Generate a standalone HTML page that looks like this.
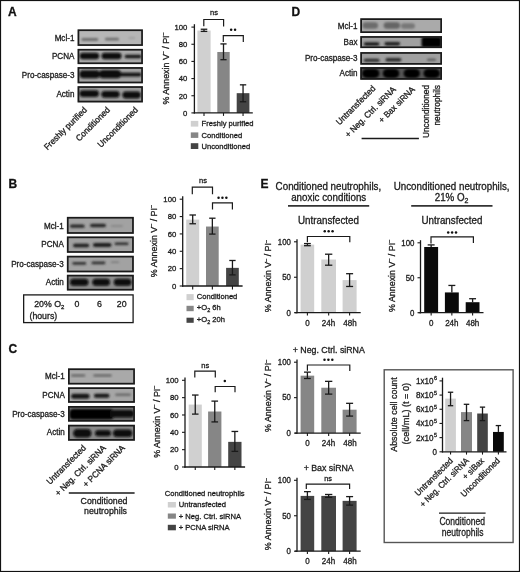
<!DOCTYPE html>
<html><head><meta charset="utf-8"><style>
html,body{margin:0;padding:0;background:#fff;width:520px;height:572px;overflow:hidden;}
svg{display:block;font-family:"Liberation Sans", sans-serif;filter:blur(0.3px);}
text{stroke:#1c1c1c;stroke-width:0.3px;paint-order:stroke;}
</style></head><body>
<svg width="520" height="572" viewBox="0 0 520 572">
<defs><filter id="bl" x="-50%" y="-50%" width="200%" height="200%"><feGaussianBlur stdDeviation="1.1"/></filter></defs>
<rect x="0" y="0" width="520" height="572" fill="#fff"/>
<rect x="0.5" y="0.5" width="519" height="571" fill="none" stroke="#111" stroke-width="1.2"/>
<text font-size="12" font-weight="bold" fill="#111" transform="translate(8.00 15.70)">A</text>
<text font-size="12" font-weight="bold" fill="#111" transform="translate(8.60 188.30)">B</text>
<text font-size="12" font-weight="bold" fill="#111" transform="translate(8.60 352.80)">C</text>
<text font-size="12" font-weight="bold" fill="#111" transform="translate(291.40 15.60)">D</text>
<text font-size="12" font-weight="bold" fill="#111" transform="translate(260.60 187.80)">E</text>
<text font-size="8.1" text-anchor="end" fill="#1c1c1c" transform="translate(74.40 40.70) scale(1.0 1.04)">Mcl-1</text>
<text font-size="8.1" text-anchor="end" fill="#1c1c1c" transform="translate(74.40 59.30) scale(1.0 1.04)">PCNA</text>
<text font-size="8.1" text-anchor="end" fill="#1c1c1c" transform="translate(74.40 77.90) scale(1.0 1.04)">Pro-caspase-3</text>
<text font-size="8.1" text-anchor="end" fill="#1c1c1c" transform="translate(74.40 96.60) scale(1.0 1.04)">Actin</text>
<clipPath id="c1"><rect x="77.6" y="29.4" width="65.30" height="16.50"/></clipPath>
<rect x="77.60" y="29.40" width="65.30" height="16.50" fill="#b6b6b6"/>
<g clip-path="url(#c1)"><g filter="url(#bl)">
<rect x="81.4" y="38.10" width="16.80" height="2.8" rx="1.4" fill="#6e6e6e"/>
<rect x="105" y="37.80" width="14.00" height="2.8" rx="1.4" fill="#6e6e6e"/>
<rect x="128.5" y="37.35" width="6.70" height="1.5" rx="0.75" fill="#999"/>
</g></g>
<rect x="78.45" y="30.25" width="63.60" height="14.80" fill="none" stroke="#1a1a1a" stroke-width="1.7"/>
<clipPath id="c2"><rect x="77.6" y="48.9" width="65.30" height="15.20"/></clipPath>
<rect x="77.60" y="48.90" width="65.30" height="15.20" fill="#a9a9a9"/>
<g clip-path="url(#c2)"><g filter="url(#bl)">
<rect x="79.6" y="52.75" width="19.60" height="6.5" rx="3.25" fill="#0d0d0d"/>
<rect x="101.5" y="52.75" width="20.00" height="6.5" rx="3.25" fill="#0d0d0d"/>
<rect x="124.6" y="54.70" width="16.90" height="3.6" rx="1.8" fill="#151515"/>
</g></g>
<rect x="78.45" y="49.75" width="63.60" height="13.50" fill="none" stroke="#1a1a1a" stroke-width="1.7"/>
<clipPath id="c3"><rect x="77.6" y="67.1" width="65.30" height="16.20"/></clipPath>
<rect x="77.60" y="67.10" width="65.30" height="16.20" fill="#a2a2a2"/>
<g clip-path="url(#c3)"><g filter="url(#bl)">
<rect x="79.4" y="70.20" width="20.60" height="8" rx="4.0" fill="#0a0a0a"/>
<rect x="99" y="70.10" width="22.10" height="8.2" rx="4.1" fill="#0a0a0a"/>
<rect x="118" y="72.80" width="23.50" height="3.6" rx="1.8" fill="#111"/>
</g></g>
<rect x="78.45" y="67.95" width="63.60" height="14.50" fill="none" stroke="#1a1a1a" stroke-width="1.7"/>
<clipPath id="c4"><rect x="77.6" y="86.2" width="65.30" height="16.20"/></clipPath>
<rect x="77.60" y="86.20" width="65.30" height="16.20" fill="#9c9c9c"/>
<g clip-path="url(#c4)"><g filter="url(#bl)">
<rect x="79.4" y="90.20" width="19.60" height="6.8" rx="3.4" fill="#0a0a0a"/>
<rect x="101.3" y="90.90" width="18.40" height="6.8" rx="3.4" fill="#0a0a0a"/>
<rect x="122.4" y="91.60" width="18.40" height="6.8" rx="3.4" fill="#0a0a0a"/>
</g></g>
<rect x="78.45" y="87.05" width="63.60" height="14.50" fill="none" stroke="#1a1a1a" stroke-width="1.7"/>
<text font-size="8.3" text-anchor="end" fill="#1c1c1c" transform="translate(87.50 110.50) rotate(-45) scale(1.0 1.04)">Freshly purified</text>
<text font-size="8.3" text-anchor="end" fill="#1c1c1c" transform="translate(110.50 110.50) rotate(-45) scale(1.0 1.04)">Conditioned</text>
<text font-size="8.3" text-anchor="end" fill="#1c1c1c" transform="translate(138.50 110.50) rotate(-45) scale(1.0 1.04)">Unconditioned</text>
<rect x="197.40" y="30.53" width="13.20" height="82.37" fill="#d0d0d0"/>
<rect x="217.30" y="51.98" width="12.40" height="60.92" fill="#868686"/>
<rect x="236.70" y="93.17" width="12.70" height="19.73" fill="#444444"/>
<line x1="204.00" y1="29.24" x2="204.00" y2="31.39" stroke="#1a1a1a" stroke-width="1.3"/>
<line x1="200.70" y1="29.24" x2="207.30" y2="29.24" stroke="#1a1a1a" stroke-width="1.3"/>
<line x1="200.70" y1="31.39" x2="207.30" y2="31.39" stroke="#1a1a1a" stroke-width="1.3"/>
<line x1="223.50" y1="43.92" x2="223.50" y2="59.70" stroke="#1a1a1a" stroke-width="1.3"/>
<line x1="220.40" y1="43.92" x2="226.60" y2="43.92" stroke="#1a1a1a" stroke-width="1.3"/>
<line x1="220.40" y1="59.70" x2="226.60" y2="59.70" stroke="#1a1a1a" stroke-width="1.3"/>
<line x1="243.05" y1="84.84" x2="243.05" y2="101.75" stroke="#1a1a1a" stroke-width="1.3"/>
<line x1="239.88" y1="84.84" x2="246.23" y2="84.84" stroke="#1a1a1a" stroke-width="1.3"/>
<line x1="239.88" y1="101.75" x2="246.23" y2="101.75" stroke="#1a1a1a" stroke-width="1.3"/>
<line x1="194.40" y1="24.20" x2="194.40" y2="113.55" stroke="#1a1a1a" stroke-width="1.3"/>
<line x1="193.75" y1="112.90" x2="252.80" y2="112.90" stroke="#1a1a1a" stroke-width="1.3"/>
<line x1="191.40" y1="112.90" x2="194.40" y2="112.90" stroke="#1a1a1a" stroke-width="1.1"/>
<text font-size="7.7" text-anchor="end" fill="#1c1c1c" transform="translate(187.40 115.67) scale(1.0 1.04)">0</text>
<line x1="191.40" y1="95.74" x2="194.40" y2="95.74" stroke="#1a1a1a" stroke-width="1.1"/>
<text font-size="7.7" text-anchor="end" fill="#1c1c1c" transform="translate(187.40 98.51) scale(1.0 1.04)">20</text>
<line x1="191.40" y1="78.58" x2="194.40" y2="78.58" stroke="#1a1a1a" stroke-width="1.1"/>
<text font-size="7.7" text-anchor="end" fill="#1c1c1c" transform="translate(187.40 81.35) scale(1.0 1.04)">40</text>
<line x1="191.40" y1="61.42" x2="194.40" y2="61.42" stroke="#1a1a1a" stroke-width="1.1"/>
<text font-size="7.7" text-anchor="end" fill="#1c1c1c" transform="translate(187.40 64.19) scale(1.0 1.04)">60</text>
<line x1="191.40" y1="44.26" x2="194.40" y2="44.26" stroke="#1a1a1a" stroke-width="1.1"/>
<text font-size="7.7" text-anchor="end" fill="#1c1c1c" transform="translate(187.40 47.03) scale(1.0 1.04)">80</text>
<line x1="191.40" y1="27.10" x2="194.40" y2="27.10" stroke="#1a1a1a" stroke-width="1.1"/>
<text font-size="7.7" text-anchor="end" fill="#1c1c1c" transform="translate(187.40 29.87) scale(1.0 1.04)">100</text>
<line x1="204.00" y1="112.90" x2="204.00" y2="115.90" stroke="#1a1a1a" stroke-width="1.1"/>
<line x1="223.50" y1="112.90" x2="223.50" y2="115.90" stroke="#1a1a1a" stroke-width="1.1"/>
<line x1="243.05" y1="112.90" x2="243.05" y2="115.90" stroke="#1a1a1a" stroke-width="1.1"/>
<text font-size="8.9" text-anchor="middle" fill="#1c1c1c" transform="translate(168.80 68.50) rotate(-90) scale(1.0 1.04)">% Annexin V<tspan font-size="5.34" dy="-3.56">&#8211;</tspan><tspan dy="3.56"> / PI</tspan><tspan font-size="5.34" dy="-3.56">&#8211;</tspan></text>
<polyline points="203.8,26.3 203.8,19.5 223.6,19.5 223.6,26.5" fill="none" stroke="#1a1a1a" stroke-width="1.2"/>
<text font-size="7.5" text-anchor="middle" fill="#1c1c1c" transform="translate(214.00 14.80) scale(1.0 1.04)">ns</text>
<polyline points="223.3,41.9 223.3,35.6 243.3,35.6 243.3,41.9" fill="none" stroke="#1a1a1a" stroke-width="1.2"/>
<circle cx="231.15" cy="29.7" r="1.25" fill="#111"/>
<circle cx="235.05" cy="29.7" r="1.25" fill="#111"/>
<rect x="190.80" y="120.90" width="7.50" height="5.70" fill="#d0d0d0"/>
<text font-size="7.6" fill="#1c1c1c" transform="translate(201.60 125.90) scale(1.0 1.04)">Freshly purified</text>
<rect x="190.80" y="132.40" width="7.50" height="5.50" fill="#868686"/>
<text font-size="7.6" fill="#1c1c1c" transform="translate(201.60 137.50) scale(1.0 1.04)">Conditioned</text>
<rect x="190.80" y="143.20" width="7.50" height="5.80" fill="#444444"/>
<text font-size="7.6" fill="#1c1c1c" transform="translate(201.60 148.60) scale(1.0 1.04)">Unconditioned</text>
<text font-size="8.1" text-anchor="end" fill="#1c1c1c" transform="translate(63.80 228.70) scale(1.0 1.04)">Mcl-1</text>
<text font-size="8.1" text-anchor="end" fill="#1c1c1c" transform="translate(63.80 247.20) scale(1.0 1.04)">PCNA</text>
<text font-size="8.1" text-anchor="end" fill="#1c1c1c" transform="translate(63.80 266.50) scale(1.0 1.04)">Pro-caspase-3</text>
<text font-size="8.1" text-anchor="end" fill="#1c1c1c" transform="translate(63.80 284.90) scale(1.0 1.04)">Actin</text>
<clipPath id="c5"><rect x="66.9" y="216.9" width="66.90" height="16.90"/></clipPath>
<rect x="66.90" y="216.90" width="66.90" height="16.90" fill="#a2a2a2"/>
<g clip-path="url(#c5)"><g filter="url(#bl)">
<rect x="70" y="224.60" width="14.60" height="3.2" rx="1.6" fill="#262626"/>
<rect x="90" y="223.75" width="16.00" height="3.5" rx="1.75" fill="#262626"/>
<rect x="110.8" y="225.00" width="12.20" height="2" rx="1.0" fill="#888"/>
</g></g>
<rect x="67.75" y="217.75" width="65.20" height="15.20" fill="none" stroke="#1a1a1a" stroke-width="1.7"/>
<clipPath id="c6"><rect x="66.9" y="236.5" width="66.90" height="16.30"/></clipPath>
<rect x="66.90" y="236.50" width="66.90" height="16.30" fill="#a0a0a0"/>
<g clip-path="url(#c6)"><g filter="url(#bl)">
<rect x="73" y="243.65" width="16.20" height="3.5" rx="1.75" fill="#1e1e1e"/>
<rect x="93" y="243.00" width="18.50" height="4" rx="2.0" fill="#1e1e1e"/>
<rect x="114.6" y="242.55" width="13.90" height="2.5" rx="1.25" fill="#2a2a2a"/>
</g></g>
<rect x="67.75" y="237.35" width="65.20" height="14.60" fill="none" stroke="#1a1a1a" stroke-width="1.7"/>
<clipPath id="c7"><rect x="66.9" y="255.8" width="66.90" height="16.50"/></clipPath>
<rect x="66.90" y="255.80" width="66.90" height="16.50" fill="#a2a2a2"/>
<g clip-path="url(#c7)"><g filter="url(#bl)">
<rect x="72.3" y="262.00" width="13.90" height="2.8" rx="1.4" fill="#333"/>
<rect x="91.5" y="261.50" width="13.90" height="2.8" rx="1.4" fill="#333"/>
<rect x="110.8" y="261.55" width="8.40" height="1.5" rx="0.75" fill="#777"/>
</g></g>
<rect x="67.75" y="256.65" width="65.20" height="14.80" fill="none" stroke="#1a1a1a" stroke-width="1.7"/>
<clipPath id="c8"><rect x="66.9" y="274.8" width="66.90" height="15.70"/></clipPath>
<rect x="66.90" y="274.80" width="66.90" height="15.70" fill="#8c8c8c"/>
<g clip-path="url(#c8)"><g filter="url(#bl)">
<rect x="70" y="278.80" width="18.50" height="7" rx="3.5" fill="#080808"/>
<rect x="92.3" y="278.80" width="17.70" height="7" rx="3.5" fill="#080808"/>
<rect x="113.8" y="278.80" width="17.70" height="7" rx="3.5" fill="#080808"/>
</g></g>
<rect x="67.75" y="275.65" width="65.20" height="14.00" fill="none" stroke="#1a1a1a" stroke-width="1.7"/>
<rect x="23.65" y="294.90" width="109.45" height="27.70" fill="none" stroke="#1a1a1a" stroke-width="1.3"/>
<text font-size="8.8" fill="#1c1c1c" transform="translate(34.20 306.80) scale(1.0 1.04)">20% O<tspan font-size="6" dy="1.7">2</tspan></text>
<text font-size="8.8" text-anchor="middle" fill="#1c1c1c" transform="translate(77.00 306.80) scale(1.0 1.04)">0</text>
<text font-size="8.8" text-anchor="middle" fill="#1c1c1c" transform="translate(99.50 306.80) scale(1.0 1.04)">6</text>
<text font-size="8.8" text-anchor="middle" fill="#1c1c1c" transform="translate(121.70 306.80) scale(1.0 1.04)">20</text>
<text font-size="8.75" fill="#1c1c1c" transform="translate(29.50 318.80) scale(1.0 1.04)">(hours)</text>
<rect x="186.20" y="219.60" width="13.00" height="66.40" fill="#d0d0d0"/>
<rect x="206.00" y="226.54" width="12.70" height="59.46" fill="#868686"/>
<rect x="226.10" y="267.86" width="12.70" height="18.14" fill="#444444"/>
<line x1="192.70" y1="215.00" x2="192.70" y2="223.76" stroke="#1a1a1a" stroke-width="1.3"/>
<line x1="189.45" y1="215.00" x2="195.95" y2="215.00" stroke="#1a1a1a" stroke-width="1.3"/>
<line x1="189.45" y1="223.76" x2="195.95" y2="223.76" stroke="#1a1a1a" stroke-width="1.3"/>
<line x1="212.35" y1="218.21" x2="212.35" y2="234.09" stroke="#1a1a1a" stroke-width="1.3"/>
<line x1="209.18" y1="218.21" x2="215.52" y2="218.21" stroke="#1a1a1a" stroke-width="1.3"/>
<line x1="209.18" y1="234.09" x2="215.52" y2="234.09" stroke="#1a1a1a" stroke-width="1.3"/>
<line x1="232.45" y1="260.48" x2="232.45" y2="274.89" stroke="#1a1a1a" stroke-width="1.3"/>
<line x1="229.27" y1="260.48" x2="235.62" y2="260.48" stroke="#1a1a1a" stroke-width="1.3"/>
<line x1="229.27" y1="274.89" x2="235.62" y2="274.89" stroke="#1a1a1a" stroke-width="1.3"/>
<line x1="182.70" y1="196.20" x2="182.70" y2="286.65" stroke="#1a1a1a" stroke-width="1.3"/>
<line x1="182.05" y1="286.00" x2="242.60" y2="286.00" stroke="#1a1a1a" stroke-width="1.3"/>
<line x1="179.70" y1="286.00" x2="182.70" y2="286.00" stroke="#1a1a1a" stroke-width="1.1"/>
<text font-size="7.7" text-anchor="end" fill="#1c1c1c" transform="translate(176.20 288.77) scale(1.0 1.04)">0</text>
<line x1="179.70" y1="268.64" x2="182.70" y2="268.64" stroke="#1a1a1a" stroke-width="1.1"/>
<text font-size="7.7" text-anchor="end" fill="#1c1c1c" transform="translate(176.20 271.41) scale(1.0 1.04)">20</text>
<line x1="179.70" y1="251.28" x2="182.70" y2="251.28" stroke="#1a1a1a" stroke-width="1.1"/>
<text font-size="7.7" text-anchor="end" fill="#1c1c1c" transform="translate(176.20 254.05) scale(1.0 1.04)">40</text>
<line x1="179.70" y1="233.92" x2="182.70" y2="233.92" stroke="#1a1a1a" stroke-width="1.1"/>
<text font-size="7.7" text-anchor="end" fill="#1c1c1c" transform="translate(176.20 236.69) scale(1.0 1.04)">60</text>
<line x1="179.70" y1="216.56" x2="182.70" y2="216.56" stroke="#1a1a1a" stroke-width="1.1"/>
<text font-size="7.7" text-anchor="end" fill="#1c1c1c" transform="translate(176.20 219.33) scale(1.0 1.04)">80</text>
<line x1="179.70" y1="199.20" x2="182.70" y2="199.20" stroke="#1a1a1a" stroke-width="1.1"/>
<text font-size="7.7" text-anchor="end" fill="#1c1c1c" transform="translate(176.20 201.97) scale(1.0 1.04)">100</text>
<line x1="192.70" y1="286.00" x2="192.70" y2="289.40" stroke="#1a1a1a" stroke-width="1.1"/>
<line x1="212.35" y1="286.00" x2="212.35" y2="289.40" stroke="#1a1a1a" stroke-width="1.1"/>
<line x1="232.45" y1="286.00" x2="232.45" y2="289.40" stroke="#1a1a1a" stroke-width="1.1"/>
<text font-size="8.9" text-anchor="middle" fill="#1c1c1c" transform="translate(157.00 241.10) rotate(-90) scale(1.0 1.04)">% Annexin V<tspan font-size="5.34" dy="-3.56">&#8211;</tspan><tspan dy="3.56"> / PI</tspan><tspan font-size="5.34" dy="-3.56">&#8211;</tspan></text>
<polyline points="192.3,194.3 192.3,187.2 212.5,187.2 212.5,194.3" fill="none" stroke="#1a1a1a" stroke-width="1.2"/>
<text font-size="7.5" text-anchor="middle" fill="#1c1c1c" transform="translate(203.00 182.60) scale(1.0 1.04)">ns</text>
<polyline points="212.5,209.5 212.5,202.8 232.4,202.8 232.4,209.5" fill="none" stroke="#1a1a1a" stroke-width="1.2"/>
<circle cx="218.55" cy="197.8" r="1.25" fill="#111"/>
<circle cx="222.45" cy="197.8" r="1.25" fill="#111"/>
<circle cx="226.35" cy="197.8" r="1.25" fill="#111"/>
<rect x="186.50" y="294.10" width="7.20" height="6.10" fill="#d0d0d0"/>
<text font-size="7.6" fill="#1c1c1c" transform="translate(196.80 299.20) scale(1.0 1.04)">Conditioned</text>
<rect x="186.50" y="305.80" width="7.20" height="5.40" fill="#868686"/>
<text font-size="7.6" fill="#1c1c1c" transform="translate(196.80 310.30) scale(1.0 1.04)">+O<tspan font-size="5.5" dy="1.8">2</tspan><tspan dy="-1.8"> 6h</tspan></text>
<rect x="186.50" y="317.70" width="7.20" height="5.10" fill="#444444"/>
<text font-size="7.6" fill="#1c1c1c" transform="translate(196.80 321.70) scale(1.0 1.04)">+O<tspan font-size="5.5" dy="1.8">2</tspan><tspan dy="-1.8"> 20h</tspan></text>
<text font-size="8.1" text-anchor="end" fill="#1c1c1c" transform="translate(64.80 379.30) scale(1.0 1.04)">Mcl-1</text>
<text font-size="8.1" text-anchor="end" fill="#1c1c1c" transform="translate(64.80 397.90) scale(1.0 1.04)">PCNA</text>
<text font-size="8.1" text-anchor="end" fill="#1c1c1c" transform="translate(64.80 416.50) scale(1.0 1.04)">Pro-caspase-3</text>
<text font-size="8.1" text-anchor="end" fill="#1c1c1c" transform="translate(64.80 434.90) scale(1.0 1.04)">Actin</text>
<clipPath id="c9"><rect x="68" y="368.4" width="66.90" height="16.10"/></clipPath>
<rect x="68.00" y="368.40" width="66.90" height="16.10" fill="#a9a9a9"/>
<g clip-path="url(#c9)"><g filter="url(#bl)">
<rect x="71.1" y="374.25" width="14.20" height="2.5" rx="1.25" fill="#6a6a6a"/>
<rect x="93.2" y="374.25" width="18.50" height="2.5" rx="1.25" fill="#6a6a6a"/>
</g></g>
<rect x="68.85" y="369.25" width="65.20" height="14.40" fill="none" stroke="#1a1a1a" stroke-width="1.7"/>
<clipPath id="c10"><rect x="68" y="387.3" width="66.90" height="15.50"/></clipPath>
<rect x="68.00" y="387.30" width="66.90" height="15.50" fill="#a6a6a6"/>
<g clip-path="url(#c10)"><g filter="url(#bl)">
<rect x="71.1" y="393.70" width="18.50" height="5" rx="2.5" fill="#151515"/>
<rect x="93.9" y="393.70" width="15.60" height="4" rx="2.0" fill="#151515"/>
<rect x="115.2" y="393.45" width="15.70" height="2.5" rx="1.25" fill="#6a6a6a"/>
</g></g>
<rect x="68.85" y="388.15" width="65.20" height="13.80" fill="none" stroke="#1a1a1a" stroke-width="1.7"/>
<clipPath id="c11"><rect x="68" y="406" width="66.90" height="15.60"/></clipPath>
<rect x="68.00" y="406.00" width="66.90" height="15.60" fill="#777777"/>
<g clip-path="url(#c11)"><g filter="url(#bl)">
<rect x="69.5" y="409.05" width="44.50" height="10.5" rx="4" fill="#060606"/>
<rect x="110" y="410.05" width="24.00" height="7.5" rx="3" fill="#0c0c0c"/>
</g></g>
<rect x="68.85" y="406.85" width="65.20" height="13.90" fill="none" stroke="#1a1a1a" stroke-width="1.7"/>
<clipPath id="c12"><rect x="68" y="424.8" width="66.90" height="15.90"/></clipPath>
<rect x="68.00" y="424.80" width="66.90" height="15.90" fill="#888888"/>
<g clip-path="url(#c12)"><g filter="url(#bl)">
<rect x="73.2" y="428.95" width="18.30" height="8.5" rx="4.25" fill="#080808"/>
<rect x="95" y="430.20" width="16.00" height="6" rx="3.0" fill="#080808"/>
<rect x="113.1" y="429.45" width="19.20" height="7.5" rx="3.75" fill="#080808"/>
</g></g>
<rect x="68.85" y="425.65" width="65.20" height="14.20" fill="none" stroke="#1a1a1a" stroke-width="1.7"/>
<text font-size="8.3" text-anchor="end" fill="#1c1c1c" transform="translate(86.50 448.50) rotate(-45) scale(1.0 1.04)">Untransfected</text>
<text font-size="8.3" text-anchor="end" fill="#1c1c1c" transform="translate(106.50 448.50) rotate(-45) scale(1.0 1.04)">+ Neg. Ctrl. siRNA</text>
<text font-size="8.3" text-anchor="end" fill="#1c1c1c" transform="translate(125.50 448.50) rotate(-45) scale(1.0 1.04)">+ PCNA siRNA</text>
<line x1="68.80" y1="493.00" x2="134.60" y2="493.00" stroke="#1a1a1a" stroke-width="1.3"/>
<text font-size="8.8" text-anchor="middle" fill="#1c1c1c" transform="translate(104.00 503.50) scale(1.0 1.04)">Conditioned</text>
<text font-size="8.8" text-anchor="middle" fill="#1c1c1c" transform="translate(105.50 513.80) scale(1.0 1.04)">neutrophils</text>
<rect x="188.70" y="404.58" width="13.10" height="62.42" fill="#d0d0d0"/>
<rect x="208.10" y="411.51" width="13.30" height="55.49" fill="#868686"/>
<rect x="228.20" y="441.86" width="13.30" height="25.14" fill="#444444"/>
<line x1="195.25" y1="395.04" x2="195.25" y2="414.11" stroke="#1a1a1a" stroke-width="1.3"/>
<line x1="191.97" y1="395.04" x2="198.53" y2="395.04" stroke="#1a1a1a" stroke-width="1.3"/>
<line x1="191.97" y1="414.11" x2="198.53" y2="414.11" stroke="#1a1a1a" stroke-width="1.3"/>
<line x1="214.75" y1="401.11" x2="214.75" y2="421.92" stroke="#1a1a1a" stroke-width="1.3"/>
<line x1="211.43" y1="401.11" x2="218.07" y2="401.11" stroke="#1a1a1a" stroke-width="1.3"/>
<line x1="211.43" y1="421.92" x2="218.07" y2="421.92" stroke="#1a1a1a" stroke-width="1.3"/>
<line x1="234.85" y1="431.45" x2="234.85" y2="451.39" stroke="#1a1a1a" stroke-width="1.3"/>
<line x1="231.52" y1="431.45" x2="238.18" y2="431.45" stroke="#1a1a1a" stroke-width="1.3"/>
<line x1="231.52" y1="451.39" x2="238.18" y2="451.39" stroke="#1a1a1a" stroke-width="1.3"/>
<line x1="185.00" y1="377.50" x2="185.00" y2="467.65" stroke="#1a1a1a" stroke-width="1.3"/>
<line x1="184.35" y1="467.00" x2="245.10" y2="467.00" stroke="#1a1a1a" stroke-width="1.3"/>
<line x1="182.00" y1="467.00" x2="185.00" y2="467.00" stroke="#1a1a1a" stroke-width="1.1"/>
<text font-size="7.7" text-anchor="end" fill="#1c1c1c" transform="translate(178.50 469.77) scale(1.0 1.04)">0</text>
<line x1="182.00" y1="449.66" x2="185.00" y2="449.66" stroke="#1a1a1a" stroke-width="1.1"/>
<text font-size="7.7" text-anchor="end" fill="#1c1c1c" transform="translate(178.50 452.43) scale(1.0 1.04)">20</text>
<line x1="182.00" y1="432.32" x2="185.00" y2="432.32" stroke="#1a1a1a" stroke-width="1.1"/>
<text font-size="7.7" text-anchor="end" fill="#1c1c1c" transform="translate(178.50 435.09) scale(1.0 1.04)">40</text>
<line x1="182.00" y1="414.98" x2="185.00" y2="414.98" stroke="#1a1a1a" stroke-width="1.1"/>
<text font-size="7.7" text-anchor="end" fill="#1c1c1c" transform="translate(178.50 417.75) scale(1.0 1.04)">60</text>
<line x1="182.00" y1="397.64" x2="185.00" y2="397.64" stroke="#1a1a1a" stroke-width="1.1"/>
<text font-size="7.7" text-anchor="end" fill="#1c1c1c" transform="translate(178.50 400.41) scale(1.0 1.04)">80</text>
<line x1="182.00" y1="380.30" x2="185.00" y2="380.30" stroke="#1a1a1a" stroke-width="1.1"/>
<text font-size="7.7" text-anchor="end" fill="#1c1c1c" transform="translate(178.50 383.07) scale(1.0 1.04)">100</text>
<line x1="195.25" y1="467.00" x2="195.25" y2="470.00" stroke="#1a1a1a" stroke-width="1.1"/>
<line x1="214.75" y1="467.00" x2="214.75" y2="470.00" stroke="#1a1a1a" stroke-width="1.1"/>
<line x1="234.85" y1="467.00" x2="234.85" y2="470.00" stroke="#1a1a1a" stroke-width="1.1"/>
<text font-size="8.9" text-anchor="middle" fill="#1c1c1c" transform="translate(159.80 421.80) rotate(-90) scale(1.0 1.04)">% Annexin V<tspan font-size="5.34" dy="-3.56">&#8211;</tspan><tspan dy="3.56"> / PI</tspan><tspan font-size="5.34" dy="-3.56">&#8211;</tspan></text>
<polyline points="194.8,377.6 194.8,371.2 215.3,371.2 215.3,377.6" fill="none" stroke="#1a1a1a" stroke-width="1.2"/>
<text font-size="7.5" text-anchor="middle" fill="#1c1c1c" transform="translate(205.20 367.70) scale(1.0 1.04)">ns</text>
<polyline points="215.2,392.3 215.2,386.5 235,386.5 235,392.3" fill="none" stroke="#1a1a1a" stroke-width="1.2"/>
<circle cx="224.80" cy="381" r="1.25" fill="#111"/>
<text font-size="7.6" fill="#1c1c1c" transform="translate(164.80 495.70) scale(1.0 1.04)">Conditioned neutrophils</text>
<rect x="167.80" y="502.00" width="8.10" height="5.50" fill="#d0d0d0"/>
<text font-size="7.6" fill="#1c1c1c" transform="translate(178.70 507.00) scale(1.0 1.04)">Untransfected</text>
<rect x="167.80" y="513.50" width="8.10" height="5.20" fill="#868686"/>
<text font-size="7.6" fill="#1c1c1c" transform="translate(178.70 518.70) scale(1.0 1.04)">+ Neg. Ctrl. siRNA</text>
<rect x="167.80" y="524.80" width="8.10" height="5.50" fill="#444444"/>
<text font-size="7.6" fill="#1c1c1c" transform="translate(178.70 529.60) scale(1.0 1.04)">+ PCNA siRNA</text>
<text font-size="8.1" text-anchor="end" fill="#1c1c1c" transform="translate(357.50 29.00) scale(1.0 1.04)">Mcl-1</text>
<text font-size="8.1" text-anchor="end" fill="#1c1c1c" transform="translate(357.50 45.00) scale(1.0 1.04)">Bax</text>
<text font-size="8.1" text-anchor="end" fill="#1c1c1c" transform="translate(357.50 61.20) scale(1.0 1.04)">Pro-caspase-3</text>
<text font-size="8.1" text-anchor="end" fill="#1c1c1c" transform="translate(357.50 76.30) scale(1.0 1.04)">Actin</text>
<clipPath id="c13"><rect x="360.3" y="18.3" width="81.70" height="14.70"/></clipPath>
<rect x="360.30" y="18.30" width="81.70" height="14.70" fill="#aaaaaa"/>
<g clip-path="url(#c13)"><g filter="url(#bl)">
<rect x="362.5" y="22.15" width="15.50" height="6.5" rx="3.25" fill="#6c6c6c"/>
<rect x="383.7" y="22.35" width="16.30" height="6.5" rx="3.25" fill="#656565"/>
<rect x="401" y="23.25" width="14.00" height="5.5" rx="2.75" fill="#777777"/>
</g></g>
<rect x="361.15" y="19.15" width="80.00" height="13.00" fill="none" stroke="#1a1a1a" stroke-width="1.7"/>
<clipPath id="c14"><rect x="360.3" y="36.1" width="81.70" height="12.00"/></clipPath>
<rect x="360.30" y="36.10" width="81.70" height="12.00" fill="#a0a0a0"/>
<g clip-path="url(#c14)"><g filter="url(#bl)">
<rect x="363.8" y="42.20" width="15.60" height="3.6" rx="1.8" fill="#1a1a1a"/>
<rect x="384.5" y="42.00" width="15.60" height="3.6" rx="1.8" fill="#1a1a1a"/>
<rect x="421.5" y="36.95" width="20.00" height="10.5" rx="2" fill="#050505"/>
</g></g>
<rect x="361.15" y="36.95" width="80.00" height="10.30" fill="none" stroke="#1a1a1a" stroke-width="1.7"/>
<clipPath id="c15"><rect x="360.3" y="52.1" width="81.70" height="12.60"/></clipPath>
<rect x="360.30" y="52.10" width="81.70" height="12.60" fill="#a0a0a0"/>
<g clip-path="url(#c15)"><g filter="url(#bl)">
<rect x="363.8" y="58.80" width="15.60" height="3" rx="1.5" fill="#2a2a2a"/>
<rect x="385.4" y="58.05" width="15.90" height="3.5" rx="1.75" fill="#2a2a2a"/>
<rect x="427" y="58.80" width="9.00" height="2" rx="1.0" fill="#555"/>
</g></g>
<rect x="361.15" y="52.95" width="80.00" height="10.90" fill="none" stroke="#1a1a1a" stroke-width="1.7"/>
<clipPath id="c16"><rect x="360.3" y="67.1" width="81.70" height="12.60"/></clipPath>
<rect x="360.30" y="67.10" width="81.70" height="12.60" fill="#555555"/>
<g clip-path="url(#c16)"><g filter="url(#bl)">
<rect x="362" y="68.90" width="17.40" height="9" rx="4.5" fill="#050505"/>
<rect x="382.8" y="68.90" width="16.50" height="9" rx="4.5" fill="#050505"/>
<rect x="403.6" y="68.90" width="16.40" height="9" rx="4.5" fill="#050505"/>
<rect x="423.5" y="68.90" width="16.40" height="9" rx="4.5" fill="#050505"/>
</g></g>
<rect x="361.15" y="67.95" width="80.00" height="10.90" fill="none" stroke="#1a1a1a" stroke-width="1.7"/>
<text font-size="8.3" text-anchor="end" fill="#1c1c1c" transform="translate(376.00 89.00) rotate(-45) scale(1.0 1.04)">Untransfected</text>
<text font-size="8.3" text-anchor="end" fill="#1c1c1c" transform="translate(396.50 90.00) rotate(-45) scale(1.0 1.04)">+ Neg. Ctrl. siRNA</text>
<text font-size="8.3" text-anchor="end" fill="#1c1c1c" transform="translate(415.50 90.00) rotate(-45) scale(1.0 1.04)">+ Bax siRNA</text>
<text font-size="8.3" text-anchor="end" fill="#1c1c1c" transform="translate(429.20 85.00) rotate(-90) scale(1.0 1.04)">Unconditioned</text>
<text font-size="8.3" text-anchor="end" fill="#1c1c1c" transform="translate(440.00 85.00) rotate(-90) scale(1.0 1.04)">neutrophils</text>
<line x1="361.60" y1="138.50" x2="418.90" y2="138.50" stroke="#1a1a1a" stroke-width="1.3"/>
<text font-size="9.8" text-anchor="middle" fill="#1c1c1c" transform="translate(328.40 189.50) scale(1.0 1.04)">Conditioned neutrophils,</text>
<text font-size="9.8" text-anchor="middle" fill="#1c1c1c" transform="translate(328.70 200.50) scale(1.0 1.04)">anoxic conditions</text>
<line x1="288.00" y1="205.90" x2="369.20" y2="205.90" stroke="#333" stroke-width="1.6"/>
<text font-size="9.8" text-anchor="middle" fill="#1c1c1c" transform="translate(451.60 189.50) scale(1.0 1.04)">Unconditioned neutrophils,</text>
<text font-size="9.8" text-anchor="middle" fill="#1c1c1c" transform="translate(451.60 200.50) scale(1.0 1.04)">21% O<tspan font-size="7" dy="2">2</tspan></text>
<line x1="411.20" y1="205.90" x2="492.50" y2="205.90" stroke="#333" stroke-width="1.6"/>
<text font-size="9.8" text-anchor="middle" fill="#1c1c1c" transform="translate(328.50 223.80) scale(1.0 1.04)">Untransfected</text>
<text font-size="9.8" text-anchor="middle" fill="#1c1c1c" transform="translate(451.90 223.80) scale(1.0 1.04)">Untransfected</text>
<text font-size="8.8" text-anchor="middle" fill="#1c1c1c" transform="translate(328.80 352.80) scale(1.0 1.04)">+ Neg. Ctrl. siRNA</text>
<text font-size="8.8" text-anchor="middle" fill="#1c1c1c" transform="translate(328.70 471.00) scale(1.0 1.04)">+ Bax siRNA</text>
<rect x="300.60" y="244.64" width="13.60" height="68.06" fill="#d0d0d0"/>
<rect x="321.30" y="259.52" width="14.70" height="53.18" fill="#d0d0d0"/>
<rect x="342.60" y="280.09" width="14.00" height="32.61" fill="#d0d0d0"/>
<line x1="307.40" y1="243.57" x2="307.40" y2="245.70" stroke="#1a1a1a" stroke-width="1.3"/>
<line x1="304.00" y1="243.57" x2="310.80" y2="243.57" stroke="#1a1a1a" stroke-width="1.3"/>
<line x1="304.00" y1="245.70" x2="310.80" y2="245.70" stroke="#1a1a1a" stroke-width="1.3"/>
<line x1="328.65" y1="254.21" x2="328.65" y2="265.20" stroke="#1a1a1a" stroke-width="1.3"/>
<line x1="324.97" y1="254.21" x2="332.32" y2="254.21" stroke="#1a1a1a" stroke-width="1.3"/>
<line x1="324.97" y1="265.20" x2="332.32" y2="265.20" stroke="#1a1a1a" stroke-width="1.3"/>
<line x1="349.60" y1="273.70" x2="349.60" y2="286.47" stroke="#1a1a1a" stroke-width="1.3"/>
<line x1="346.10" y1="273.70" x2="353.10" y2="273.70" stroke="#1a1a1a" stroke-width="1.3"/>
<line x1="346.10" y1="286.47" x2="353.10" y2="286.47" stroke="#1a1a1a" stroke-width="1.3"/>
<line x1="297.00" y1="239.20" x2="297.00" y2="313.35" stroke="#1a1a1a" stroke-width="1.3"/>
<line x1="295.00" y1="312.70" x2="360.70" y2="312.70" stroke="#1a1a1a" stroke-width="1.3"/>
<line x1="294.00" y1="312.70" x2="297.00" y2="312.70" stroke="#1a1a1a" stroke-width="1.1"/>
<text font-size="7.9" text-anchor="end" fill="#1c1c1c" transform="translate(291.00 315.54) scale(1.0 1.04)">0</text>
<line x1="294.00" y1="277.25" x2="297.00" y2="277.25" stroke="#1a1a1a" stroke-width="1.1"/>
<text font-size="7.9" text-anchor="end" fill="#1c1c1c" transform="translate(291.00 280.09) scale(1.0 1.04)">50</text>
<line x1="294.00" y1="241.80" x2="297.00" y2="241.80" stroke="#1a1a1a" stroke-width="1.1"/>
<text font-size="7.9" text-anchor="end" fill="#1c1c1c" transform="translate(291.00 244.64) scale(1.0 1.04)">100</text>
<line x1="307.40" y1="312.70" x2="307.40" y2="315.60" stroke="#1a1a1a" stroke-width="1.1"/>
<line x1="328.65" y1="312.70" x2="328.65" y2="315.60" stroke="#1a1a1a" stroke-width="1.1"/>
<line x1="349.60" y1="312.70" x2="349.60" y2="315.60" stroke="#1a1a1a" stroke-width="1.1"/>
<polyline points="307.4,242.3 307.4,236.5 349.8,236.5 349.8,242.3" fill="none" stroke="#1a1a1a" stroke-width="1.2"/>
<circle cx="324.75" cy="231.3" r="1.25" fill="#111"/>
<circle cx="328.65" cy="231.3" r="1.25" fill="#111"/>
<circle cx="332.55" cy="231.3" r="1.25" fill="#111"/>
<text font-size="8.9" text-anchor="middle" fill="#1c1c1c" transform="translate(271.30 276.10) rotate(-90) scale(1.0 1.04)">% Annexin V<tspan font-size="5.34" dy="-3.56">&#8211;</tspan><tspan dy="3.56"> / PI</tspan><tspan font-size="5.34" dy="-3.56">&#8211;</tspan></text>
<text font-size="8" text-anchor="middle" fill="#1c1c1c" transform="translate(307.50 326.40) scale(1.0 1.04)">0</text>
<text font-size="8" text-anchor="middle" fill="#1c1c1c" transform="translate(328.40 326.40) scale(1.0 1.04)">24h</text>
<text font-size="8" text-anchor="middle" fill="#1c1c1c" transform="translate(349.90 326.40) scale(1.0 1.04)">48h</text>
<rect x="424.20" y="246.99" width="13.90" height="65.71" fill="#0a0a0a"/>
<rect x="444.90" y="292.43" width="13.90" height="20.27" fill="#0a0a0a"/>
<rect x="465.70" y="302.21" width="13.80" height="10.49" fill="#0a0a0a"/>
<line x1="431.15" y1="244.90" x2="431.15" y2="246.99" stroke="#1a1a1a" stroke-width="1.3"/>
<line x1="427.67" y1="244.90" x2="434.62" y2="244.90" stroke="#1a1a1a" stroke-width="1.3"/>
<line x1="451.85" y1="285.44" x2="451.85" y2="292.43" stroke="#1a1a1a" stroke-width="1.3"/>
<line x1="448.38" y1="285.44" x2="455.33" y2="285.44" stroke="#1a1a1a" stroke-width="1.3"/>
<line x1="472.60" y1="298.72" x2="472.60" y2="302.21" stroke="#1a1a1a" stroke-width="1.3"/>
<line x1="469.15" y1="298.72" x2="476.05" y2="298.72" stroke="#1a1a1a" stroke-width="1.3"/>
<line x1="420.50" y1="240.20" x2="420.50" y2="313.35" stroke="#1a1a1a" stroke-width="1.3"/>
<line x1="418.50" y1="312.70" x2="483.50" y2="312.70" stroke="#1a1a1a" stroke-width="1.3"/>
<line x1="417.50" y1="312.70" x2="420.50" y2="312.70" stroke="#1a1a1a" stroke-width="1.1"/>
<text font-size="7.9" text-anchor="end" fill="#1c1c1c" transform="translate(414.50 315.54) scale(1.0 1.04)">0</text>
<line x1="417.50" y1="277.75" x2="420.50" y2="277.75" stroke="#1a1a1a" stroke-width="1.1"/>
<text font-size="7.9" text-anchor="end" fill="#1c1c1c" transform="translate(414.50 280.59) scale(1.0 1.04)">50</text>
<line x1="417.50" y1="242.80" x2="420.50" y2="242.80" stroke="#1a1a1a" stroke-width="1.1"/>
<text font-size="7.9" text-anchor="end" fill="#1c1c1c" transform="translate(414.50 245.64) scale(1.0 1.04)">100</text>
<line x1="431.15" y1="312.70" x2="431.15" y2="315.60" stroke="#1a1a1a" stroke-width="1.1"/>
<line x1="451.85" y1="312.70" x2="451.85" y2="315.60" stroke="#1a1a1a" stroke-width="1.1"/>
<line x1="472.60" y1="312.70" x2="472.60" y2="315.60" stroke="#1a1a1a" stroke-width="1.1"/>
<polyline points="431.0,243.5 431.0,236.8 473.4,236.8 473.4,242.9" fill="none" stroke="#1a1a1a" stroke-width="1.2"/>
<circle cx="448.20" cy="232.5" r="1.25" fill="#111"/>
<circle cx="452.10" cy="232.5" r="1.25" fill="#111"/>
<circle cx="456.00" cy="232.5" r="1.25" fill="#111"/>
<text font-size="8.9" text-anchor="middle" fill="#1c1c1c" transform="translate(394.50 275.90) rotate(-90) scale(1.0 1.04)">% Annexin V<tspan font-size="5.34" dy="-3.56">&#8211;</tspan><tspan dy="3.56"> / PI</tspan><tspan font-size="5.34" dy="-3.56">&#8211;</tspan></text>
<text font-size="8" text-anchor="middle" fill="#1c1c1c" transform="translate(431.10 326.40) scale(1.0 1.04)">0</text>
<text font-size="8" text-anchor="middle" fill="#1c1c1c" transform="translate(451.80 326.40) scale(1.0 1.04)">24h</text>
<text font-size="8" text-anchor="middle" fill="#1c1c1c" transform="translate(472.60 326.40) scale(1.0 1.04)">48h</text>
<rect x="300.60" y="375.67" width="13.60" height="57.43" fill="#868686"/>
<rect x="321.30" y="387.72" width="14.70" height="45.38" fill="#868686"/>
<rect x="342.60" y="409.70" width="14.00" height="23.40" fill="#868686"/>
<line x1="307.40" y1="372.13" x2="307.40" y2="378.51" stroke="#1a1a1a" stroke-width="1.3"/>
<line x1="304.00" y1="372.13" x2="310.80" y2="372.13" stroke="#1a1a1a" stroke-width="1.3"/>
<line x1="304.00" y1="378.51" x2="310.80" y2="378.51" stroke="#1a1a1a" stroke-width="1.3"/>
<line x1="328.65" y1="381.34" x2="328.65" y2="394.11" stroke="#1a1a1a" stroke-width="1.3"/>
<line x1="324.97" y1="381.34" x2="332.32" y2="381.34" stroke="#1a1a1a" stroke-width="1.3"/>
<line x1="324.97" y1="394.11" x2="332.32" y2="394.11" stroke="#1a1a1a" stroke-width="1.3"/>
<line x1="349.60" y1="403.32" x2="349.60" y2="416.08" stroke="#1a1a1a" stroke-width="1.3"/>
<line x1="346.10" y1="403.32" x2="353.10" y2="403.32" stroke="#1a1a1a" stroke-width="1.3"/>
<line x1="346.10" y1="416.08" x2="353.10" y2="416.08" stroke="#1a1a1a" stroke-width="1.3"/>
<line x1="297.00" y1="359.60" x2="297.00" y2="433.75" stroke="#1a1a1a" stroke-width="1.3"/>
<line x1="295.00" y1="433.10" x2="360.70" y2="433.10" stroke="#1a1a1a" stroke-width="1.3"/>
<line x1="294.00" y1="433.10" x2="297.00" y2="433.10" stroke="#1a1a1a" stroke-width="1.1"/>
<text font-size="7.9" text-anchor="end" fill="#1c1c1c" transform="translate(291.00 435.94) scale(1.0 1.04)">0</text>
<line x1="294.00" y1="397.65" x2="297.00" y2="397.65" stroke="#1a1a1a" stroke-width="1.1"/>
<text font-size="7.9" text-anchor="end" fill="#1c1c1c" transform="translate(291.00 400.49) scale(1.0 1.04)">50</text>
<line x1="294.00" y1="362.20" x2="297.00" y2="362.20" stroke="#1a1a1a" stroke-width="1.1"/>
<text font-size="7.9" text-anchor="end" fill="#1c1c1c" transform="translate(291.00 365.04) scale(1.0 1.04)">100</text>
<line x1="307.40" y1="433.10" x2="307.40" y2="436.00" stroke="#1a1a1a" stroke-width="1.1"/>
<line x1="328.65" y1="433.10" x2="328.65" y2="436.00" stroke="#1a1a1a" stroke-width="1.1"/>
<line x1="349.60" y1="433.10" x2="349.60" y2="436.00" stroke="#1a1a1a" stroke-width="1.1"/>
<polyline points="307.4,370.8 307.4,365 349.8,365 349.8,371.1" fill="none" stroke="#1a1a1a" stroke-width="1.2"/>
<circle cx="324.50" cy="359.8" r="1.25" fill="#111"/>
<circle cx="328.40" cy="359.8" r="1.25" fill="#111"/>
<circle cx="332.30" cy="359.8" r="1.25" fill="#111"/>
<text font-size="8.9" text-anchor="middle" fill="#1c1c1c" transform="translate(271.30 395.90) rotate(-90) scale(1.0 1.04)">% Annexin V<tspan font-size="5.34" dy="-3.56">&#8211;</tspan><tspan dy="3.56"> / PI</tspan><tspan font-size="5.34" dy="-3.56">&#8211;</tspan></text>
<text font-size="8" text-anchor="middle" fill="#1c1c1c" transform="translate(307.50 445.70) scale(1.0 1.04)">0</text>
<text font-size="8" text-anchor="middle" fill="#1c1c1c" transform="translate(328.40 445.70) scale(1.0 1.04)">24h</text>
<text font-size="8" text-anchor="middle" fill="#1c1c1c" transform="translate(349.90 445.70) scale(1.0 1.04)">48h</text>
<rect x="300.60" y="495.90" width="13.60" height="55.30" fill="#444444"/>
<rect x="321.30" y="495.90" width="14.70" height="55.30" fill="#444444"/>
<rect x="342.60" y="500.86" width="14.00" height="50.34" fill="#444444"/>
<line x1="307.40" y1="491.64" x2="307.40" y2="499.44" stroke="#1a1a1a" stroke-width="1.3"/>
<line x1="304.00" y1="491.64" x2="310.80" y2="491.64" stroke="#1a1a1a" stroke-width="1.3"/>
<line x1="304.00" y1="499.44" x2="310.80" y2="499.44" stroke="#1a1a1a" stroke-width="1.3"/>
<line x1="328.65" y1="494.48" x2="328.65" y2="497.32" stroke="#1a1a1a" stroke-width="1.3"/>
<line x1="324.97" y1="494.48" x2="332.32" y2="494.48" stroke="#1a1a1a" stroke-width="1.3"/>
<line x1="324.97" y1="497.32" x2="332.32" y2="497.32" stroke="#1a1a1a" stroke-width="1.3"/>
<line x1="349.60" y1="496.61" x2="349.60" y2="505.12" stroke="#1a1a1a" stroke-width="1.3"/>
<line x1="346.10" y1="496.61" x2="353.10" y2="496.61" stroke="#1a1a1a" stroke-width="1.3"/>
<line x1="346.10" y1="505.12" x2="353.10" y2="505.12" stroke="#1a1a1a" stroke-width="1.3"/>
<line x1="297.00" y1="477.70" x2="297.00" y2="551.85" stroke="#1a1a1a" stroke-width="1.3"/>
<line x1="295.00" y1="551.20" x2="360.70" y2="551.20" stroke="#1a1a1a" stroke-width="1.3"/>
<line x1="294.00" y1="551.20" x2="297.00" y2="551.20" stroke="#1a1a1a" stroke-width="1.1"/>
<text font-size="7.9" text-anchor="end" fill="#1c1c1c" transform="translate(291.00 554.04) scale(1.0 1.04)">0</text>
<line x1="294.00" y1="515.75" x2="297.00" y2="515.75" stroke="#1a1a1a" stroke-width="1.1"/>
<text font-size="7.9" text-anchor="end" fill="#1c1c1c" transform="translate(291.00 518.59) scale(1.0 1.04)">50</text>
<line x1="294.00" y1="480.30" x2="297.00" y2="480.30" stroke="#1a1a1a" stroke-width="1.1"/>
<text font-size="7.9" text-anchor="end" fill="#1c1c1c" transform="translate(291.00 483.14) scale(1.0 1.04)">100</text>
<line x1="307.40" y1="551.20" x2="307.40" y2="554.10" stroke="#1a1a1a" stroke-width="1.1"/>
<line x1="328.65" y1="551.20" x2="328.65" y2="554.10" stroke="#1a1a1a" stroke-width="1.1"/>
<line x1="349.60" y1="551.20" x2="349.60" y2="554.10" stroke="#1a1a1a" stroke-width="1.1"/>
<polyline points="306.3,489 306.3,484.2 349.6,484.2 349.6,489" fill="none" stroke="#1a1a1a" stroke-width="1.2"/>
<text font-size="7.3" text-anchor="middle" fill="#1c1c1c" transform="translate(328.00 481.30) scale(1.0 1.04)">ns</text>
<text font-size="8.9" text-anchor="middle" fill="#1c1c1c" transform="translate(271.30 514.10) rotate(-90) scale(1.0 1.04)">% Annexin V<tspan font-size="5.34" dy="-3.56">&#8211;</tspan><tspan dy="3.56"> / PI</tspan><tspan font-size="5.34" dy="-3.56">&#8211;</tspan></text>
<text font-size="8" text-anchor="middle" fill="#1c1c1c" transform="translate(307.50 564.30) scale(1.0 1.04)">0</text>
<text font-size="8" text-anchor="middle" fill="#1c1c1c" transform="translate(328.40 564.30) scale(1.0 1.04)">24h</text>
<text font-size="8" text-anchor="middle" fill="#1c1c1c" transform="translate(349.90 564.30) scale(1.0 1.04)">48h</text>
<rect x="384.20" y="369.80" width="128.90" height="172.70" fill="none" stroke="#555" stroke-width="1.4"/>
<rect x="445.20" y="398.62" width="10.70" height="53.18" fill="#d0d0d0"/>
<rect x="461.00" y="412.10" width="11.00" height="39.70" fill="#868686"/>
<rect x="477.20" y="413.51" width="10.60" height="38.29" fill="#444444"/>
<rect x="493.00" y="431.95" width="10.80" height="19.85" fill="#0a0a0a"/>
<line x1="450.55" y1="392.24" x2="450.55" y2="405.71" stroke="#1a1a1a" stroke-width="1.3"/>
<line x1="447.87" y1="392.24" x2="453.22" y2="392.24" stroke="#1a1a1a" stroke-width="1.3"/>
<line x1="447.87" y1="405.71" x2="453.22" y2="405.71" stroke="#1a1a1a" stroke-width="1.3"/>
<line x1="466.50" y1="404.30" x2="466.50" y2="420.60" stroke="#1a1a1a" stroke-width="1.3"/>
<line x1="463.75" y1="404.30" x2="469.25" y2="404.30" stroke="#1a1a1a" stroke-width="1.3"/>
<line x1="463.75" y1="420.60" x2="469.25" y2="420.60" stroke="#1a1a1a" stroke-width="1.3"/>
<line x1="482.50" y1="407.13" x2="482.50" y2="420.60" stroke="#1a1a1a" stroke-width="1.3"/>
<line x1="479.85" y1="407.13" x2="485.15" y2="407.13" stroke="#1a1a1a" stroke-width="1.3"/>
<line x1="479.85" y1="420.60" x2="485.15" y2="420.60" stroke="#1a1a1a" stroke-width="1.3"/>
<line x1="498.40" y1="425.57" x2="498.40" y2="431.95" stroke="#1a1a1a" stroke-width="1.3"/>
<line x1="495.70" y1="425.57" x2="501.10" y2="425.57" stroke="#1a1a1a" stroke-width="1.3"/>
<line x1="442.50" y1="377.70" x2="442.50" y2="452.45" stroke="#1a1a1a" stroke-width="1.3"/>
<line x1="441.85" y1="451.80" x2="506.50" y2="451.80" stroke="#1a1a1a" stroke-width="1.3"/>
<line x1="439.50" y1="451.80" x2="442.50" y2="451.80" stroke="#1a1a1a" stroke-width="1.1"/>
<line x1="439.50" y1="437.62" x2="442.50" y2="437.62" stroke="#1a1a1a" stroke-width="1.1"/>
<line x1="439.50" y1="423.44" x2="442.50" y2="423.44" stroke="#1a1a1a" stroke-width="1.1"/>
<line x1="439.50" y1="409.26" x2="442.50" y2="409.26" stroke="#1a1a1a" stroke-width="1.1"/>
<line x1="439.50" y1="395.08" x2="442.50" y2="395.08" stroke="#1a1a1a" stroke-width="1.1"/>
<line x1="439.50" y1="380.90" x2="442.50" y2="380.90" stroke="#1a1a1a" stroke-width="1.1"/>
<line x1="450.55" y1="451.80" x2="450.55" y2="454.60" stroke="#1a1a1a" stroke-width="1.1"/>
<line x1="466.50" y1="451.80" x2="466.50" y2="454.60" stroke="#1a1a1a" stroke-width="1.1"/>
<line x1="482.50" y1="451.80" x2="482.50" y2="454.60" stroke="#1a1a1a" stroke-width="1.1"/>
<line x1="498.40" y1="451.80" x2="498.40" y2="454.60" stroke="#1a1a1a" stroke-width="1.1"/>
<text font-size="8" text-anchor="end" fill="#1c1c1c" transform="translate(437.00 454.70) scale(1.0 1.04)">0</text>
<text font-size="8.1" text-anchor="end" fill="#1c1c1c" transform="translate(437.00 440.52) scale(1.0 1.04)">2x10<tspan font-size="5.4" dx="0.4" dy="-3.3">5</tspan></text>
<text font-size="8.1" text-anchor="end" fill="#1c1c1c" transform="translate(437.00 426.34) scale(1.0 1.04)">4x10<tspan font-size="5.4" dx="0.4" dy="-3.3">5</tspan></text>
<text font-size="8.1" text-anchor="end" fill="#1c1c1c" transform="translate(437.00 412.16) scale(1.0 1.04)">6x10<tspan font-size="5.4" dx="0.4" dy="-3.3">5</tspan></text>
<text font-size="8.1" text-anchor="end" fill="#1c1c1c" transform="translate(437.00 397.98) scale(1.0 1.04)">8x10<tspan font-size="5.4" dx="0.4" dy="-3.3">5</tspan></text>
<text font-size="8.1" text-anchor="end" fill="#1c1c1c" transform="translate(437.00 383.80) scale(1.0 1.04)">1x10<tspan font-size="5.4" dx="0.4" dy="-3.3">6</tspan></text>
<text font-size="9.6" text-anchor="middle" fill="#1c1c1c" transform="translate(397.20 414.50) rotate(-90) scale(0.925 1.04)">Absolute cell count</text>
<text font-size="9.6" text-anchor="middle" fill="#1c1c1c" transform="translate(408.80 413.70) rotate(-90) scale(0.95 1.04)">(cell/mL) (t = 0)</text>
<text font-size="8.3" text-anchor="end" fill="#1c1c1c" transform="translate(453.50 461.30) rotate(-45) scale(0.965 1.04)">Untransfected</text>
<text font-size="8.3" text-anchor="end" fill="#1c1c1c" transform="translate(469.50 461.30) rotate(-45) scale(0.965 1.04)">+ Neg. Ctrl. siRNA</text>
<text font-size="8.3" text-anchor="end" fill="#1c1c1c" transform="translate(484.50 461.30) rotate(-45) scale(0.965 1.04)">+ siBax</text>
<text font-size="8.3" text-anchor="end" fill="#1c1c1c" transform="translate(500.50 461.30) rotate(-45) scale(0.965 1.04)">Unconditioned</text>
<line x1="439.00" y1="513.10" x2="485.60" y2="513.10" stroke="#1a1a1a" stroke-width="1.3"/>
<text font-size="10.3" text-anchor="middle" fill="#1c1c1c" transform="translate(462.20 525.00) scale(0.83 1.0)">Conditioned</text>
<text font-size="10.3" text-anchor="middle" fill="#1c1c1c" transform="translate(462.60 535.60) scale(0.83 1.0)">neutrophils</text>
</svg>
</body></html>
